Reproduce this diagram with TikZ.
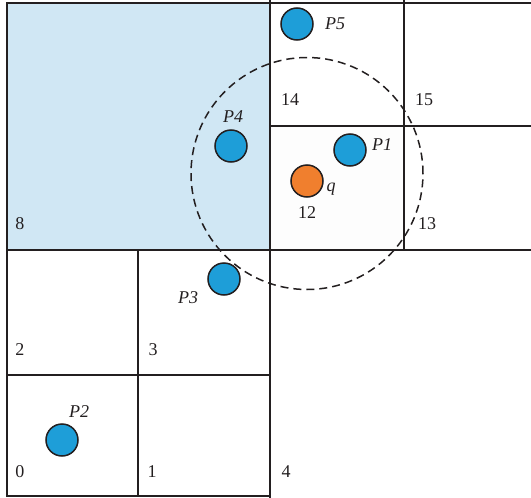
\documentclass[tikz,border=0pt]{standalone}
\usepackage{fontspec}
\setmainfont{Liberation Serif}
\begin{document}
\begin{tikzpicture}[x=1pt,y=-1pt,
  thinl/.style={draw=linec,line width=1.6pt},
  thickl/.style={draw=linec,line width=2.5pt},
  pt/.style={circle,draw=linec,line width=1.5pt,fill=ptblue,minimum size=32pt,inner sep=0pt},
  qpt/.style={circle,draw=linec,line width=1.5pt,fill=qorange,minimum size=32pt,inner sep=0pt},
  lab/.style={font=\fontsize{18}{20}\selectfont,text=linec,inner sep=0pt},
  plab/.style={font=\fontsize{18}{20}\selectfont\itshape,text=linec,inner sep=0pt}]
\definecolor{linec}{HTML}{231F20}
\definecolor{ptblue}{HTML}{1E9ED8}
\definecolor{qorange}{HTML}{F07F2E}
\definecolor{lblue}{HTML}{D0E7F4}
\definecolor{cellgray}{HTML}{FDFDFD}
\useasboundingbox (0,0) rectangle (531,498);
% fills
\fill[lblue] (7,3) rectangle (270,250);
\fill[cellgray] (270,126) rectangle (404,250);
% thin lines
\draw[thinl] (531,3) -- (7,3) -- (7,496) -- (270,496);
\draw[thinl] (270,126) -- (531,126);
\draw[thinl] (7,375) -- (270,375);
% thick lines
\draw[thickl] (270,0) -- (270,498);
\draw[thickl] (7,250) -- (531,250);
\draw[thickl] (404,0) -- (404,250);
\draw[thickl] (138,250) -- (138,496);
% query circle
\node[circle,draw=linec,line width=1.5pt,dash pattern=on 8pt off 5pt,minimum size=232pt,inner sep=0pt] (range) at (307,173.5) {};
% points
\node[pt] (p5) at (297,24) {};
\node[pt] (p1) at (350,150) {};
\node[qpt] (q) at (307,181) {};
\node[pt] (p4) at (231,146) {};
\node[pt] (p3) at (224,279) {};
\node[pt] (p2) at (62,440) {};
% point labels
\node[plab] (lp5) at (335,24) {P5};
\node[plab] (lp1) at (382,145) {P1};
\node[plab] (lq) at (331,189) {q};
\node[plab] (lp4) at (233,117) {P4};
\node[plab] (lp3) at (188,298) {P3};
\node[plab] (lp2) at (79,412) {P2};
% cell labels
\node[lab] (c12) at (307,213) {12};
\node[lab] (c14) at (290,100) {14};
\node[lab] (c15) at (424,100) {15};
\node[lab] (c13) at (427,224) {13};
\node[lab] (c8) at (20,224) {8};
\node[lab] (c2) at (20,350) {2};
\node[lab] (c3) at (153,350) {3};
\node[lab] (c0) at (20,472) {0};
\node[lab] (c1) at (152,472) {1};
\node[lab] (c4) at (286,472) {4};
\end{tikzpicture}
\end{document}
